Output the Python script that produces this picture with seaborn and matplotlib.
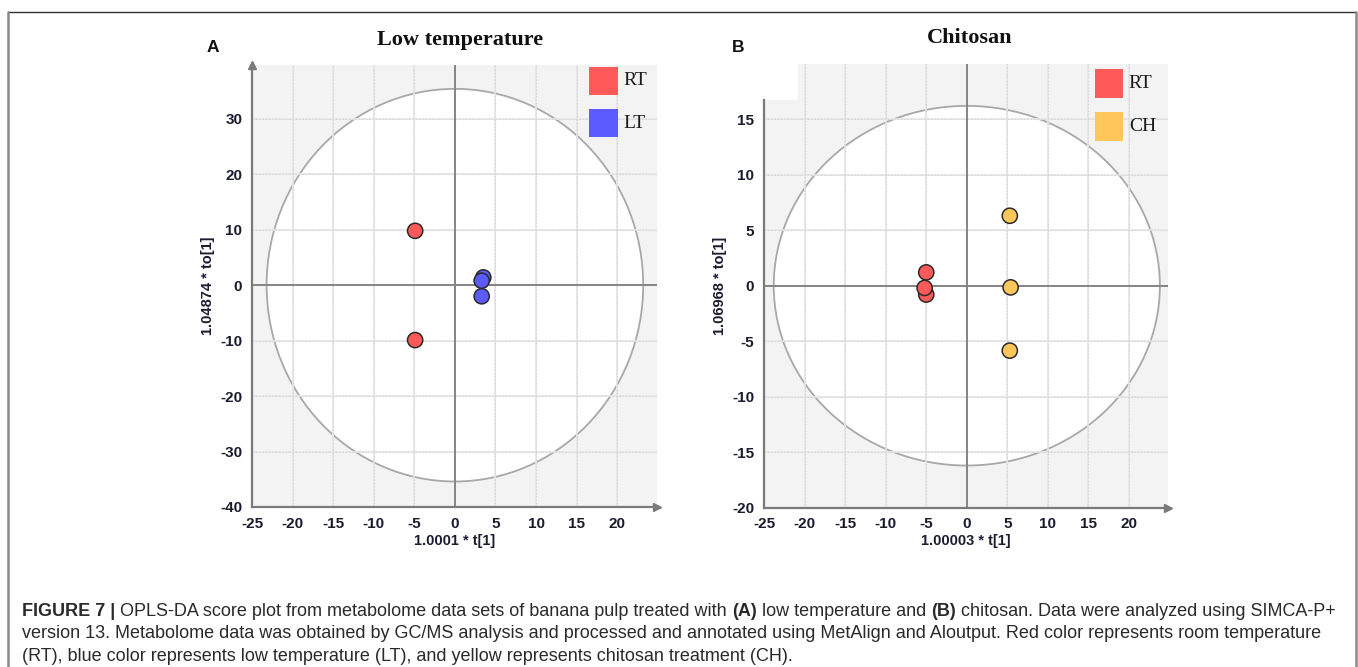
import numpy as np
import pandas as pd
import matplotlib
matplotlib.use("Agg")
import matplotlib.pyplot as plt
import seaborn as sns
from matplotlib.patches import Ellipse, Rectangle
from matplotlib.lines import Line2D
from matplotlib.ticker import MultipleLocator, FixedLocator

# ---------------- data ----------------
a_group = ["RT", "RT", "LT", "LT", "LT"]
a_t = [-4.9, -4.9, 3.5, 3.3, 3.3]
a_to = [9.8, -9.9, 1.4, 0.8, -2.0]

b_group = ["RT", "RT", "RT", "CH", "CH", "CH"]
b_t = [-5.0, -5.0, -5.2, 5.3, 5.4, 5.3]
b_to = [1.2, -0.8, -0.2, 6.3, -0.15, -5.85]

a_ellipse = (23.2, 35.4)   # semi-axes of Hotelling T2 ellipse
b_ellipse = (23.8, 16.2)

a_yticks = [-40, -30, -20, -10, 0, 10, 20, 30]
b_yticks = [-20, -15, -10, -5, 0, 5, 10, 15]
x_ticks = [-25, -20, -15, -10, -5, 0, 5, 10, 15, 20]

a_title, b_title = "Low temperature", "Chitosan"
a_xlabel, a_ylabel = "1.0001 * t[1]", "1.04874 * to[1]"
b_xlabel, b_ylabel = "1.00003 * t[1]", "1.06968 * to[1]"

colors = {"RT": "#FF5A5A", "LT": "#5B5BFF", "CH": "#FFC65A"}

caption = [
    [("FIGURE 7 | ", "bold"),
     ("OPLS-DA score plot from metabolome data sets of banana pulp treated with ", "normal"),
     ("(A)", "bold"), (" low temperature and ", "normal"), ("(B)", "bold"),
     (" chitosan. Data were analyzed using SIMCA-P+", "normal")],
    [("version 13. Metabolome data was obtained by GC/MS analysis and processed and annotated "
      "using MetAlign and Aloutput. Red color represents room temperature", "normal")],
    [("(RT), blue color represents low temperature (LT), and yellow represents chitosan "
      "treatment (CH).", "normal")],
]

# ---------------- figure ----------------
W, H = 1358, 667
sns.set_style("white")
plt.rcParams["font.family"] = ["Liberation Sans", "DejaVu Sans"]
plt.rcParams["axes.unicode_minus"] = False
fig = plt.figure(figsize=(W / 100, H / 100), dpi=100)
cap_family = "Liberation Sans"


def px_rect(l, t, r, b):
    return [l / W, 1 - b / H, (r - l) / W, (b - t) / H]


SP = "#7a7a7a"
TICKC = "#1c1c30"


def make_panel(rect, groups, xs, ys, ell, xlim, ylim, yticks, ymin, xlabel, ylabel,
               yspine_top=None, yarrow=True):
    ax = fig.add_axes(rect)
    ax.set_facecolor("#f3f3f3")
    ax.set_xlim(*xlim)
    ax.set_ylim(*ylim)
    ax.add_patch(Ellipse((0, 0), 2 * ell[0], 2 * ell[1], facecolor="white",
                         edgecolor="#a8a8a8", lw=1.3, zorder=0.2))
    ax.set_axisbelow(True)
    ax.xaxis.set_major_locator(FixedLocator(x_ticks))
    ax.xaxis.set_minor_locator(MultipleLocator(2.5))
    ax.yaxis.set_major_locator(FixedLocator(yticks))
    ax.yaxis.set_minor_locator(MultipleLocator(ymin))
    ax.grid(True, which="major", color="#e6e6e6", lw=1.3, zorder=0.5)
    for v in x_ticks:
        ax.axvline(v, color="#d2d2d2", lw=0.8, ls=(0, (1, 2)), zorder=0.6)
    for v in yticks:
        ax.axhline(v, color="#d2d2d2", lw=0.8, ls=(0, (1, 2)), zorder=0.6)
    ax.axhline(0, color="#858585", lw=1.4, zorder=1.5)
    ax.axvline(0, color="#858585", lw=1.4, zorder=1.5)

    df = pd.DataFrame({"t": xs, "to": ys, "group": groups})
    sns.scatterplot(data=df, x="t", y="to", hue="group", palette=colors, s=120,
                    edgecolor="#2a2a2a", linewidth=1.1, legend=False, ax=ax, zorder=3)
    for s in ["top", "right"]:
        ax.spines[s].set_visible(False)
    for s in ["left", "bottom"]:
        ax.spines[s].set_color(SP)
        ax.spines[s].set_linewidth(1.6)
    if yspine_top is not None:
        ax.spines["left"].set_bounds(ylim[0], yspine_top)
    ax.tick_params(which="major", direction="out", length=4, width=1.2, color=SP,
                   labelsize=11, labelcolor=TICKC, pad=3)
    ax.tick_params(which="minor", direction="out", length=2.5, width=1.0, color=SP)
    for lab in ax.get_xticklabels() + ax.get_yticklabels():
        lab.set_fontweight("bold")
    ax.set_xlabel(xlabel, fontsize=10.5, fontweight="bold", color=TICKC, labelpad=2)
    ax.set_ylabel(ylabel, fontsize=10.5, fontweight="bold", color=TICKC, labelpad=4)
    ax.plot([1.0], [0.0], marker=">", color=SP, markersize=6, transform=ax.transAxes,
            clip_on=False, zorder=5)
    if yarrow:
        ax.plot([0.0], [1.0], marker="^", color=SP, markersize=6, transform=ax.transAxes,
                clip_on=False, zorder=5)
    return ax


def legend_box(ax, entries, x0, x1, tops, h, tx):
    for (lab, col), top in zip(entries, tops):
        ax.add_patch(Rectangle((x0, top - h), x1 - x0, h, transform=ax.transAxes,
                               facecolor=col, edgecolor="none", clip_on=False, zorder=6))
        ax.text(tx, top - h / 2, lab, transform=ax.transAxes, fontsize=14,
                family="Liberation Serif", va="center", ha="left", color="#1a1a1a", zorder=6)


# Panel A
axA = make_panel(px_rect(252, 65, 657, 507), a_group, a_t, a_to, a_ellipse,
                 (-25, 24.9), (-40, 39.7), a_yticks, 5, a_xlabel, a_ylabel)
legend_box(axA, [("RT", colors["RT"]), ("LT", colors["LT"])], 0.832, 0.904,
           [0.996, 0.90], 0.064, 0.916)

# Panel B
axB = make_panel(px_rect(764, 63.7, 1168, 507.7), b_group, b_t, b_to, b_ellipse,
                 (-25, 24.8), (-20, 20), b_yticks, 2.5, b_xlabel, b_ylabel,
                 yspine_top=16.7, yarrow=False)
axB.add_patch(Rectangle((-25.5, 16.7), 25.5 - 20.8, 3.6, facecolor="white",
                        edgecolor="none", zorder=0.9, clip_on=False))
legend_box(axB, [("RT", colors["RT"]), ("CH", colors["CH"])], 0.819, 0.889,
           [0.987, 0.892], 0.065, 0.903)

# Titles and panel letters
fig.text(460 / W, 1 - 40 / H, a_title, fontsize=16, fontweight="bold",
         family="Liberation Serif", ha="center", va="center", color="#111")
fig.text(970 / W, 1 - 38 / H, b_title, fontsize=16, fontweight="bold",
         family="Liberation Serif", ha="center", va="center", color="#111")
fig.text(213 / W, 1 - 48 / H, "A", fontsize=12.5, fontweight="bold", ha="center",
         va="center", color="#111")
fig.text(738 / W, 1 - 47 / H, "B", fontsize=12.5, fontweight="bold", ha="center",
         va="center", color="#111")

# Border of the figure box
fig.add_artist(Line2D([7.5 / W, 1355.5 / W], [1 - 11.5 / H, 1 - 11.5 / H],
                      color="#333333", lw=1.0))
fig.add_artist(Line2D([7.5 / W, 7.5 / W], [1 - 11.5 / H, 0], color="#8a8a8a", lw=1.8))
fig.add_artist(Line2D([1355.5 / W, 1355.5 / W], [1 - 11.5 / H, 0], color="#8a8a8a", lw=1.8))

# Caption with mixed weights
renderer = fig.canvas.get_renderer()
CAP_SIZE = 13.0


def text_width(s, weight):
    t1 = fig.text(0, 0, "|" + s + "|", fontsize=CAP_SIZE, fontweight=weight, family=cap_family)
    t2 = fig.text(0, 0, "||", fontsize=CAP_SIZE, fontweight=weight, family=cap_family)
    w = t1.get_window_extent(renderer).width - t2.get_window_extent(renderer).width
    t1.remove()
    t2.remove()
    return w


baselines = [616, 638.5, 661]
for parts, yb in zip(caption, baselines):
    x = 22.0
    for s, wgt in parts:
        fig.text(x / W, 1 - yb / H, s, fontsize=CAP_SIZE, fontweight=wgt, family=cap_family,
                 ha="left", va="baseline", color="#2a2a2a")
        x += text_width(s, wgt)

fig.savefig("out.png", dpi=100)
